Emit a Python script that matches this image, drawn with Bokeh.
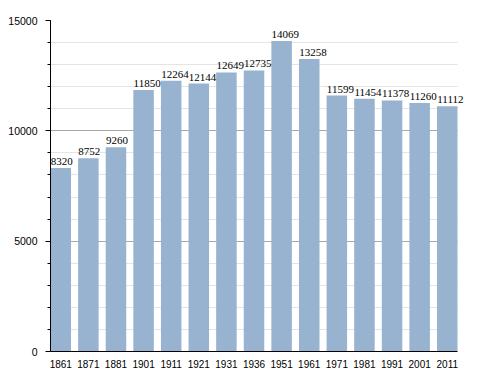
from bokeh.plotting import figure
from bokeh.models import FixedTicker, Range1d, ColumnDataSource, LabelSet
from bokeh.embed import file_html
from bokeh.resources import INLINE

years = ["1861", "1871", "1881", "1901", "1911", "1921", "1931", "1936",
         "1951", "1961", "1971", "1981", "1991", "2001", "2011"]
population = [8320, 8752, 9260, 11850, 12264, 12144, 12649, 12735,
              14069, 13258, 11599, 11454, 11378, 11260, 11112]
y_ticks = [0, 5000, 10000, 15000]

idx = list(range(len(years)))
BAR_W = 0.743
X0, X1 = -BAR_W / 2, len(years) - 1 + BAR_W / 2
src = ColumnDataSource(dict(x=idx, y=population, label=[str(v) for v in population]))

p = figure(width=480, height=370, output_backend="svg", toolbar_location=None,
           x_range=Range1d(X0, X1 + 0.47),
           y_range=Range1d(0, 15000),
           min_border_left=50, min_border_right=10, min_border_top=20, min_border_bottom=10)
p.outline_line_color = None
p.background_fill_color = "white"

p.vbar(x="x", top="y", width=BAR_W, bottom=0, source=src,
       fill_color="#97B3D0", line_color=None)
labels = LabelSet(x="x", y="y", text="label", source=src, x_offset=-10, y_offset=3,
                  text_align="left", text_baseline="bottom",
                  text_font="Liberation Sans", text_font_size="11px", text_color="black")
p.add_layout(labels)

# x axis
p.xaxis.ticker = FixedTicker(ticks=idx)
p.xaxis.bounds = (X0, X1)
p.xaxis.major_label_overrides = {i: y for i, y in enumerate(years)}
p.xaxis.major_tick_line_color = None
p.xaxis.minor_tick_line_color = None
p.xaxis.axis_line_color = "black"
p.xaxis.major_label_text_font = "Liberation Sans"
p.xaxis.major_label_text_font_size = "10px"
p.xaxis.major_label_text_color = "black"
p.xaxis.major_label_standoff = 2
p.xgrid.grid_line_color = None

# y axis
p.yaxis.ticker = FixedTicker(ticks=y_ticks, minor_ticks=list(range(0, 15001, 1000)))
p.yaxis.axis_line_color = "black"
p.yaxis.major_tick_out = 5
p.yaxis.major_tick_in = 0
p.yaxis.minor_tick_out = 3
p.yaxis.minor_tick_in = 0
p.yaxis.major_tick_line_color = "black"
p.yaxis.minor_tick_line_color = "black"
p.yaxis.major_label_text_font = "Liberation Sans"
p.yaxis.major_label_text_font_size = "10.5px"
p.yaxis.major_label_text_color = "black"
p.yaxis.major_label_standoff = 8
p.ygrid.grid_line_color = "#a8a8a8"
p.ygrid.minor_grid_line_color = "#e4e4e4"
p.ygrid.cross_bounds = (X0, X1)

open("out.html", "w").write(file_html(p, INLINE))
